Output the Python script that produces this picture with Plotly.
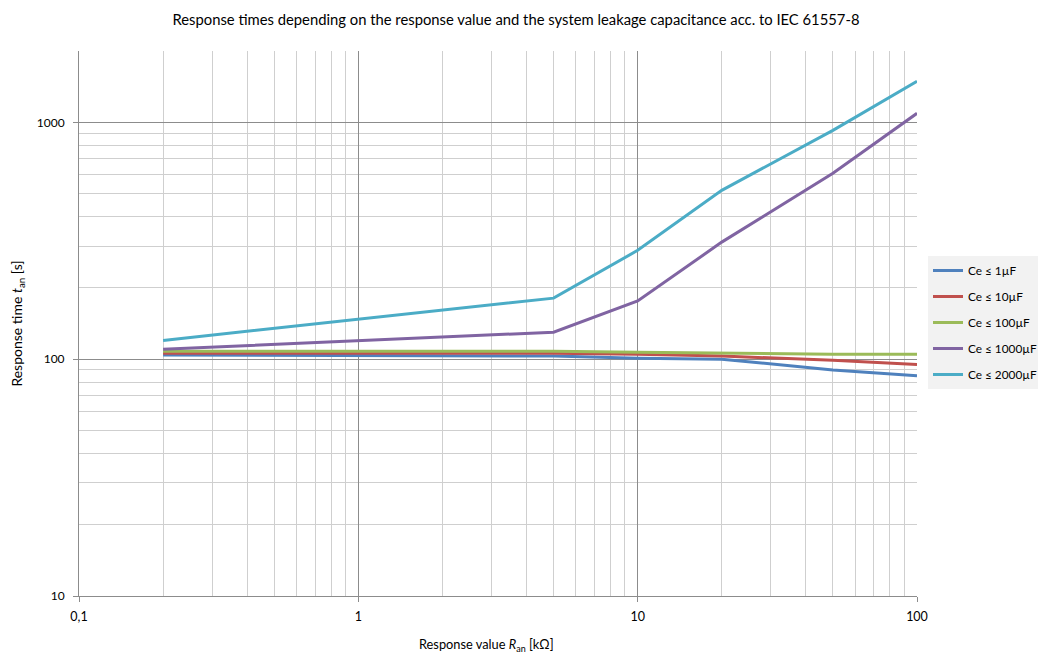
import plotly.graph_objects as go

r_an = [0.2, 5, 10, 20, 50, 100]
names = ["Ce ≤ 1µF", "Ce ≤ 10µF", "Ce ≤ 100µF", "Ce ≤ 1000µF", "Ce ≤ 2000µF"]
t_1 = [104, 103, 101, 100, 90, 85]
t_10 = [106, 106, 105, 103, 99, 95]
t_100 = [108, 108, 107, 106, 105, 105]
t_1000 = [110, 130, 176, 312, 609, 1091]
t_2000 = [120, 181, 288, 516, 925, 1490]
colors = ["#4f81bd", "#c0504d", "#9bbb59", "#8064a2", "#4bacc6"]

x_ticks = [0.1, 1, 10, 100]
x_ticktext = ["0,1", "1", "10", "100"]
y_ticks = [10, 100, 1000]
y_ticktext = ["10", "100", "1000"]

fig = go.Figure()
for i, (name, ys, c) in enumerate(zip(names, [t_1, t_10, t_100, t_1000, t_2000], colors)):
    fig.add_trace(go.Scatter(x=r_an, y=ys, mode="lines", name=name,
                             legendgroup=f"g{i}",
                             line=dict(color=c, width=3)))

font = "Lato, Liberation Sans, Arial, sans-serif"
x_minor = [m * d for d in (0.1, 1, 10) for m in range(2, 10)]
y_minor = [m * d for d in (10, 100) for m in range(2, 10)] + [2000]

W, H = 1038, 647
L, R, T, B = 71, 129, 43, 59
PW, PH = W - L - R, H - T - B
fig.update_layout(
    width=W, height=H,
    paper_bgcolor="white", plot_bgcolor="white",
    margin=dict(l=L, r=R, t=T, b=B, autoexpand=False),
    font=dict(family=font, size=12, color="#000"),
    title=dict(text="Response times depending on the response value and the system leakage capacitance acc. to IEC 61557-8",
               x=508 / W, xanchor="center", xref="container", yref="container", y=1 - 12 / H, yanchor="middle",
               font=dict(size=14.8)),
    showlegend=True,
    legend=dict(x=(920 - L) / PW, y=(T + PH - 248) / PH, xanchor="left", yanchor="top",
                bgcolor="#f2f2f2", font=dict(size=11.8),
                tracegroupgap=7, itemwidth=30),
    annotations=[dict(text="Response value <i>R</i><sub>an</sub> [kΩ]", xref="paper", yref="paper",
                      x=(478 - L) / PW, y=(T + PH - 637) / PH, xanchor="center", yanchor="middle",
                      showarrow=False, font=dict(size=12.8))],
)
fig.update_xaxes(
    type="log", range=[-1, 2],
    tickvals=x_ticks, ticktext=x_ticktext,
    showgrid=True, gridcolor="#8c8c8c", gridwidth=1,
    minor=dict(tickvals=x_minor, showgrid=True, gridcolor="#cfcfcf", gridwidth=1, ticks=""),
    showline=True, linecolor="#8c8c8c", linewidth=1,
    ticks="outside", ticklen=5, tickcolor="#8c8c8c",
    ticklabelstandoff=4, tickfont=dict(size=12.5),
    zeroline=False,
)
fig.update_yaxes(
    type="log", range=[1, 3.30103],
    tickvals=y_ticks, ticktext=y_ticktext,
    showgrid=True, gridcolor="#8c8c8c", gridwidth=1,
    minor=dict(tickvals=y_minor, showgrid=True, gridcolor="#cfcfcf", gridwidth=1, ticks=""),
    showline=True, linecolor="#8c8c8c", linewidth=1,
    ticks="outside", ticklen=5, tickcolor="#8c8c8c",
    ticklabelstandoff=6, tickfont=dict(size=12),
    zeroline=False,
    title=dict(text="Response time <i>t</i><sub>an</sub> [s]", standoff=14, font=dict(size=14)),
)

fig.write_html("out.html")
